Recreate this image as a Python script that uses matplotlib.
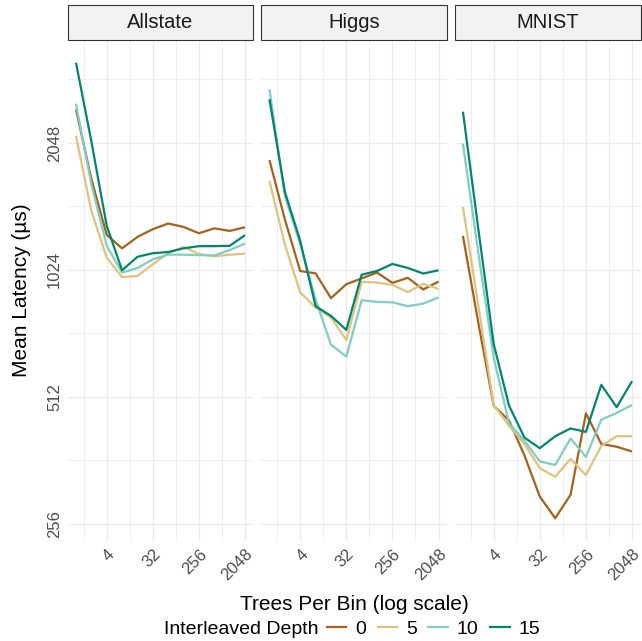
import numpy as np
import matplotlib
matplotlib.use('Agg')
import matplotlib.pyplot as plt
from matplotlib.patches import Rectangle
from matplotlib.lines import Line2D
from matplotlib.ticker import NullFormatter

plt.rcParams['font.family'] = ['Liberation Sans', 'DejaVu Sans']

# 데이터
trees = [1, 2, 4, 8, 16, 32, 64, 128, 256, 512, 1024, 2048]
depths = [0, 5, 10, 15]
colors = ['#A6611A', '#DFC27D', '#80CDC1', '#018571']
datasets = ['Allstate', 'Higgs', 'MNIST']

allstate_d0 = [2461, 1684, 1240, 1152, 1226, 1279, 1319, 1295, 1251, 1285, 1267, 1293]
allstate_d5 = [2128, 1413, 1095, 985, 991, 1056, 1122, 1161, 1117, 1103, 1113, 1119]
allstate_d10 = [2538, 1635, 1169, 1009, 1035, 1085, 1113, 1113, 1110, 1108, 1141, 1183]
allstate_d15 = [3175, 2070, 1303, 1022, 1100, 1122, 1129, 1152, 1166, 1166, 1168, 1238]

higgs_d0 = [1866, 1350, 1018, 1005, 878, 947, 978, 1009, 954, 981, 920, 961]
higgs_d5 = [1664, 1177, 906, 834, 790, 699, 960, 956, 944, 907, 949, 923]
higgs_d10 = [2746, 1534, 1180, 872, 681, 638, 868, 860, 858, 840, 852, 881]
higgs_d15 = [2600, 1570, 1200, 840, 797, 738, 998, 1018, 1058, 1035, 1004, 1022]

mnist_d0 = [1233, 767, 488, 450, 372, 297, 264, 300, 468, 396, 390, 380]
mnist_d5 = [1444, 842, 490, 437, 396, 347, 331, 365, 334, 392, 413, 413]
mnist_d10 = [2040, 1124, 634, 443, 403, 360, 353, 408, 369, 452, 469, 490]
mnist_d15 = [2429, 1281, 683, 488, 410, 387, 413, 431, 423, 547, 484, 558]

latency = {
    'Allstate': [allstate_d0, allstate_d5, allstate_d10, allstate_d15],
    'Higgs': [higgs_d0, higgs_d5, higgs_d10, higgs_d15],
    'MNIST': [mnist_d0, mnist_d5, mnist_d10, mnist_d15],
}

x_major = [4, 32, 256, 2048]
y_major = [256, 512, 1024, 2048]

W, H = 642, 641
fig = plt.figure(figsize=(W / 100, H / 100), dpi=100)

# 패널 위치 (픽셀)
left0, pw, gap = 67.5, 186, 7.5
top, bot = 40, 541
grid_c = '#EBEBEB'

for k, name in enumerate(datasets):
    x0 = left0 + k * (pw + gap)
    ax = fig.add_axes([x0 / W, 1 - bot / H, pw / W, (bot - top) / H])
    for series, c in zip(latency[name], colors):
        ax.plot(trees, series, color=c, linewidth=1.6, solid_capstyle='butt')

    ax.set_xscale('log', base=2)
    ax.set_yscale('log', base=2)
    ax.set_xlim(2 ** -0.55, 2 ** 11.55)
    ax.set_ylim(2 ** 7.865, 2 ** 11.811)

    ax.set_xticks(x_major)
    ax.set_xticklabels([str(v) for v in x_major])
    ax.set_xticks([2 ** 0.5, 2 ** 3.5, 2 ** 6.5, 2 ** 9.5], minor=True)
    ax.xaxis.set_minor_formatter(NullFormatter())
    ax.set_yticks(y_major)
    ax.set_yticks([2 ** 8.5, 2 ** 9.5, 2 ** 10.5, 2 ** 11.5], minor=True)
    ax.yaxis.set_minor_formatter(NullFormatter())
    if k == 0:
        ax.set_yticklabels([str(v) for v in y_major])
        for lab in ax.get_yticklabels():
            lab.set_rotation(90)
            lab.set_va('center')
            lab.set_ha('right')
    else:
        ax.set_yticklabels([])

    for lab in ax.get_xticklabels():
        lab.set_rotation(45)
        lab.set_ha('right')
        lab.set_va('top')
        lab.set_rotation_mode('anchor')

    ax.tick_params(which='both', length=0, labelsize=12, labelcolor='#4D4D4D')
    ax.tick_params(axis='x', pad=4)
    ax.tick_params(axis='y', pad=4)
    ax.grid(which='major', color=grid_c, linewidth=1.0)
    ax.grid(which='minor', color=grid_c, linewidth=0.6)
    ax.set_axisbelow(True)
    for s in ax.spines.values():
        s.set_visible(False)

    # 패싯 제목 박스
    h = bot - top
    ax.add_patch(Rectangle((0, 1 + 0.5 / h), 1, 34.5 / h, transform=ax.transAxes,
                           facecolor='#F2F2F2', edgecolor='#333333', linewidth=0.8,
                           clip_on=False))
    ax.text(0.5, 1 + 18 / h, name, transform=ax.transAxes, ha='center', va='center',
            fontsize=14.5, color='#1A1A1A')

fig.text(22 / W, 1 - 290.5 / H, 'Mean Latency (µs)', rotation=90, ha='center', va='center',
         fontsize=15, color='black')
fig.text(354 / W, 1 - 605 / H, 'Trees Per Bin (log scale)', ha='center', va='center',
         fontsize=15, color='black')

# 범례
fig.text(164 / W, 1 - 629 / H, 'Interleaved Depth', ha='left', va='center',
         fontsize=14, color='black')
handles = [Line2D([0], [0], color=c, linewidth=1.6) for c in colors]
fig.legend(handles, [str(d) for d in depths], loc='center left',
           bbox_to_anchor=(327 / W, 1 - 629 / H), ncol=4, frameon=False,
           fontsize=14, handlelength=1.0, handletextpad=0.45, columnspacing=0.6,
           borderaxespad=0, borderpad=0)

fig.savefig('out.png', dpi=100, facecolor='white')
